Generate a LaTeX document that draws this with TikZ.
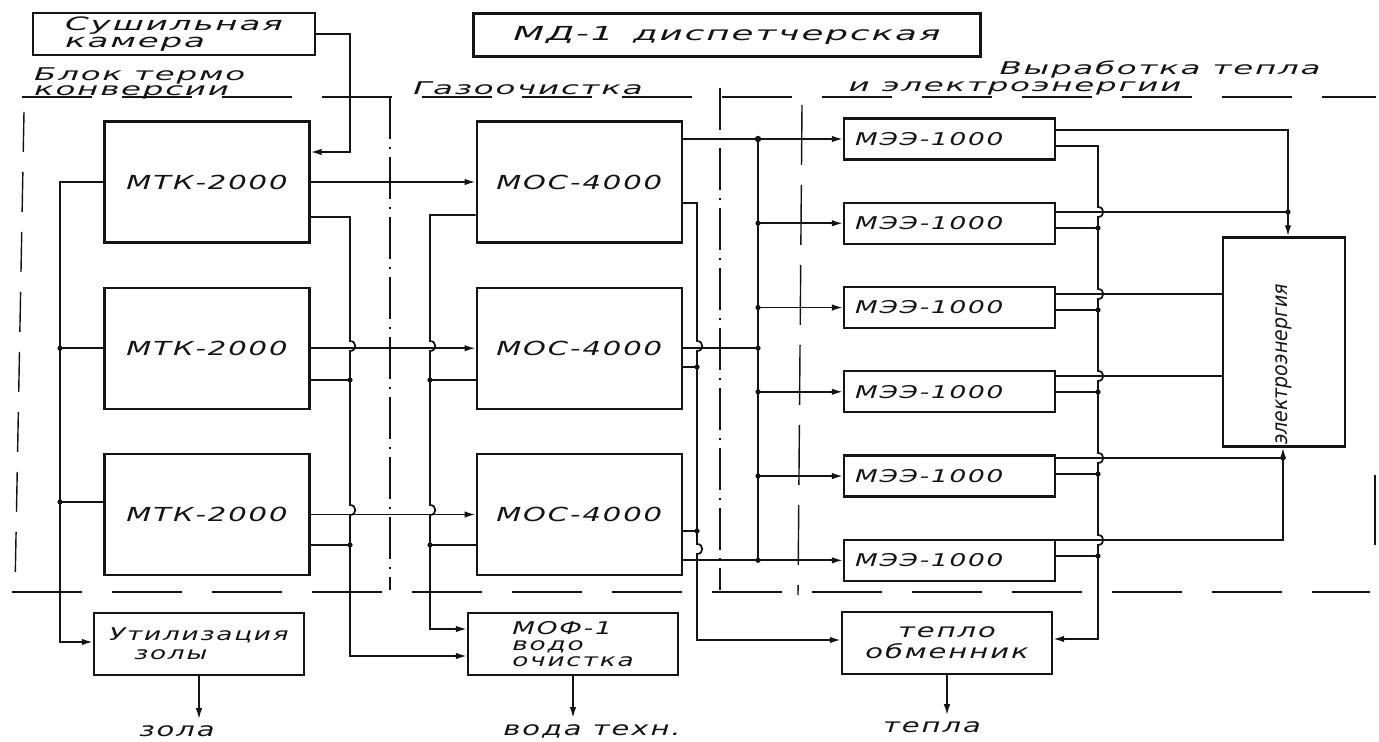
\documentclass[tikz,border=0pt]{standalone}
\usepackage{fontspec}
\usepackage{tikz}
\usetikzlibrary{arrows.meta,positioning,calc}
\newfontfamily\hand{DejaVu Sans}[FakeStretch=1.5,LetterSpace=10]
\newfontfamily\handw{DejaVu Sans}[FakeStretch=1.85,LetterSpace=10]
\newfontfamily\handn{DejaVu Sans}[FakeStretch=0.9]
\definecolor{Ink}{HTML}{141414}

\begin{document}
\begin{tikzpicture}[x=0.02cm,y=-0.02cm,>={Latex[length=2.2mm,width=1.3mm]},
    every node/.style={font=\hand\itshape\fontsize{11}{12}\selectfont,text=Ink},
    big/.style={font=\handw\itshape\fontsize{11}{9}\selectfont},
    mid/.style={font=\handw\itshape\fontsize{10}{9}\selectfont},
    box/.style={draw=Ink,line width=1.3pt,inner sep=1pt},
    unit/.style={box,minimum width=4.1cm,minimum height=2.42cm},
    mee/.style={box,minimum height=0.82cm,text width=3.78cm,inner xsep=0.22cm,align=left,font=\hand\itshape\fontsize{10}{11}\selectfont},
    sink/.style={box,minimum width=4.2cm,minimum height=1.24cm,align=left},
    link/.style={draw=Ink,line width=1pt},
    zone/.style={draw=Ink,line width=0.8pt,dash pattern=on 1.4cm off 0.6cm},
    zonedot/.style={draw=Ink,line width=0.8pt,dash pattern=on 0.85cm off 0.15cm on 0.05cm off 0.15cm}]

    \useasboundingbox (0,0) rectangle (1379,742);

    \draw[zone] (22,97) -- (1376,97);
    \draw[zone] (12,592) -- (1370,592);
    \draw[zone,dash pattern=on 0.8cm off 0.4cm] (24,112) -- (15,590);
    \draw[zonedot] (390,97) -- (390,590);
    \draw[zonedot] (720,88) -- (720,590);
    \draw[zone,dash pattern=on 1.2cm off 0.4cm] (802,105) -- (798,595);
    \draw[zone] (1375,475) -- (1375,555);

    \node[box,minimum width=5.64cm,minimum height=0.84cm,align=left,font=\handw\itshape\fontsize{10.5}{9.8}\selectfont] (dryer) at (174,34) {Сушильная\\камера};
    \node[box,big,minimum width=10.14cm,minimum height=0.86cm] (disp) at (727,35) {МД-1\quad диспетчерская};

    \node[mid,anchor=north west,align=left] (therm) at (28,61) {Блок термо\\конверсии};
    \node[mid] (gas) at (528,88) {Газоочистка};
    \node[mid] (gen1) at (1160,70) {Выработка тепла};
    \node[mid] (gen2) at (1015,88) {и электроэнергии};

    \node[unit] (mtk1) at (207,182) {МТК-2000};
    \node[unit,below=0.86cm of mtk1] (mtk2) {МТК-2000};
    \node[unit,below=0.86cm of mtk2] (mtk3) {МТК-2000};

    \node[unit,right=3.3cm of mtk1] (mos1) {МОС-4000};
    \node[unit,right=3.3cm of mtk2] (mos2) {МОС-4000};
    \node[unit,right=3.3cm of mtk3] (mos3) {МОС-4000};

    \node[mee] (mee1) at (949.5,139) {МЭЭ-1000};
    \node[mee,below=0.82cm of mee1] (mee2) {МЭЭ-1000};
    \node[mee,below=0.82cm of mee2] (mee3) {МЭЭ-1000};
    \node[mee,below=0.82cm of mee3] (mee4) {МЭЭ-1000};
    \node[mee,below=0.82cm of mee4] (mee5) {МЭЭ-1000};
    \node[mee,below=0.82cm of mee5] (mee6) {МЭЭ-1000};

    \node[box,minimum width=2.44cm,minimum height=4.1cm,font=\handn\itshape\fontsize{12}{12}\selectfont] (elec) at (1284,342) {\rotatebox{90}{электроэнергия\hspace{0.9cm}}};

    \node[sink,font=\hand\itshape\fontsize{10}{11}\selectfont] (ash) at (199,644) {Утилизация\\\hspace*{0.5cm}золы};
    \node[sink,font=\hand\itshape\fontsize{10}{9}\selectfont] (water) at (573,644) {МОФ-1\\водо\\очистка};
    \node[sink,align=center] (heat) at (947,643) {тепло\\обменник};

    \node (ashout) at (177,731) {зола};
    \node (waterout) at (592,731) {вода техн.};
    \node (heatout) at (932,727) {тепла};

    \coordinate (busA) at (60,0);
    \coordinate (busB) at (350,0);
    \coordinate (busC) at (430,0);
    \coordinate (busE) at (697,0);
    \coordinate (busD) at (758,0);
    \coordinate (busF) at (1098,0);
    \coordinate (busG) at (1288,0);
    \coordinate (busH) at (1283,0);

    \draw[link,->] (dryer.east) -| (350,152) -- (mtk1.east |- 0,152);

    \draw[link,->] (mtk1.west) -| (60,642) -- (ash.west |- 0,642);
    \draw[link] (mtk2.west) -- (busA |- mtk2.west);
    \draw[link] (mtk3.west |- 0,502) -- (60,502);
    \fill[Ink] (busA |- mtk2.west) circle (2.6) (60,502) circle (2.6);

    \draw[link,->] (mtk1.east) -- (mos1.west);
    \draw[link,->] (mtk2.east) -- (mos2.west);
    \draw[link,->] (mtk3.east) -- (mos3.west);

    \draw[link,->] (mtk1.east |- 0,217) -- (350,217) -- (350,341) .. controls (357,341) and (357,351) .. (350,351) -- (350,505) .. controls (357,505) and (357,515) .. (350,515) -- (350,656) -- (water.west |- 0,656);
    \draw[link] (mtk2.east |- 0,380) -- (350,380);
    \draw[link] (mtk3.east |- 0,545) -- (350,545);
    \fill[Ink] (350,380) circle (2.6) (350,545) circle (2.6);

    \draw[link,->] (mos1.west |- 0,215) -- (430,215) -- (430,341) .. controls (437,341) and (437,351) .. (430,351) -- (430,505) .. controls (437,505) and (437,515) .. (430,515) -- (430,629) -- (water.west |- 0,629);
    \draw[link] (mos2.west |- 0,380) -- (430,380);
    \draw[link] (mos3.west |- 0,545) -- (430,545);
    \fill[Ink] (430,380) circle (2.6) (430,545) circle (2.6);

    \draw[link,->] (mos1.east |- 0,203) -- (697,203) -- (697,341) .. controls (704,341) and (704,351) .. (697,351) -- (697,544) .. controls (704,544) and (704,554) .. (697,554) -- (697,640) -- (heat.west |- 0,640);
    \draw[link] (mos2.east |- 0,367) -- (697,367);
    \draw[link] (mos3.east |- 0,531) -- (697,531);
    \fill[Ink] (697,367) circle (2.6) (697,531) circle (2.6);

    \draw[link,->] (mos1.east |- mee1.west) -- (mee1.west);
    \draw[link] (busD |- mee1.west) -- (busD |- mee6.west);
    \draw[link] (mos2.east) -- (busD |- mos2.east);
    \draw[link,->] (mos3.east |- mee6.west) -- (mee6.west);
    \draw[link,->] (busD |- mee2.west) -- (mee2.west);
    \draw[link,->] (busD |- mee3.west) -- (mee3.west);
    \draw[link,->] (busD |- mee4.west) -- (mee4.west);
    \draw[link,->] (busD |- mee5.west) -- (mee5.west);
    \fill[Ink] (busD |- mee1.west) circle (3.2) (busD |- mee2.west) circle (2.6) (busD |- mee3.west) circle (2.6) (busD |- mos2.east) circle (2.6) (busD |- mee4.west) circle (2.6) (busD |- mee5.west) circle (2.6) (busD |- mee6.west) circle (2.6);

    \draw[link,->] (mee1.east |- 0,146) -- (1098,146) -- (1098,207) .. controls (1105,207) and (1105,217) .. (1098,217) -- (1098,289) .. controls (1105,289) and (1105,299) .. (1098,299) -- (1098,371) .. controls (1105,371) and (1105,381) .. (1098,381) -- (1098,453) .. controls (1105,453) and (1105,463) .. (1098,463) -- (1098,535) .. controls (1105,535) and (1105,545) .. (1098,545) -- (1098,639) -- (heat.east |- 0,639);
    \draw[link] (mee2.east |- 0,228) -- (1098,228);
    \draw[link] (mee3.east |- 0,310) -- (1098,310);
    \draw[link] (mee4.east |- 0,392) -- (1098,392);
    \draw[link] (mee5.east |- 0,474) -- (1098,474);
    \draw[link] (mee6.east |- 0,556) -- (1098,556);
    \fill[Ink] (1098,228) circle (2.6) (1098,310) circle (2.6) (1098,392) circle (2.6) (1098,474) circle (2.6) (1098,556) circle (2.6);

    \draw[link,->] (mee1.east |- 0,130) -- (1288,130) -- (elec.north -| busG);
    \draw[link] (mee2.east |- 0,212) -- (1288,212);
    \draw[link] (mee3.east |- 0,294) -- (elec.west |- 0,294);
    \draw[link] (mee4.east |- 0,376) -- (elec.west |- 0,376);
    \draw[link] (mee5.east |- 0,458) -- (1283,458);
    \draw[link,->] (mee6.east |- 0,540) -| (elec.south -| busH);
    \fill[Ink] (1288,212) circle (2.6) (1283,458) circle (2.6);

    \draw[link,->] (ash.south) -- (ash.south |- ashout.north);
    \draw[link,->] (water.south) -- (water.south |- waterout.north);
    \draw[link,->] (heat.south) -- (heat.south |- heatout.north);
\end{tikzpicture}
\end{document}
